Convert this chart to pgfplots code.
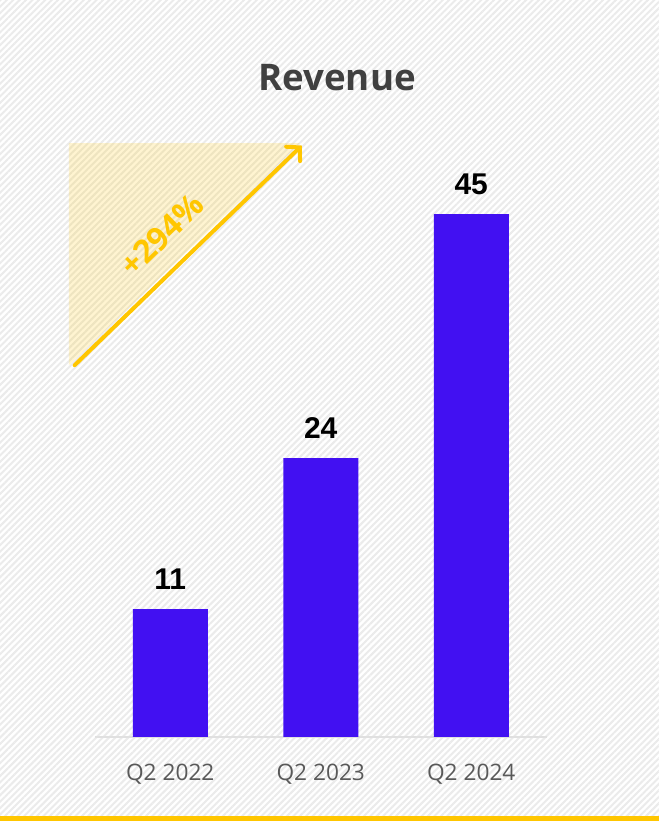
\documentclass[border=0pt]{standalone}
\usepackage{pgfplots}
\pgfplotsset{compat=1.18}
\usepackage{fontspec}
\setmainfont{Open Sans}
\newfontfamily\arialf{Liberation Sans}
\usetikzlibrary{patterns.meta,arrows.meta}
\newdimen\pxu \pxu=0.75pt
\definecolor{barblue}{HTML}{4210F2}
\definecolor{gold}{HTML}{FFC600}
\definecolor{titlegray}{HTML}{404040}
\definecolor{tickgray}{HTML}{595959}
\begin{document}
\begin{tikzpicture}
\useasboundingbox (0,0) rectangle (659\pxu,821\pxu);
\fill[white] (0,0) rectangle (659\pxu,821\pxu);
\fill[pattern={Lines[angle=45,distance=3.4pt,line width=1.5pt]},pattern color=black!8] (0,0) rectangle (659\pxu,821\pxu);
\fill[gold] (0,0) rectangle (659\pxu,5\pxu);
\node[font=\bfseries\fontsize{27.5}{30}\selectfont,text=titlegray] at (337\pxu,743\pxu) {Revenue};
\begin{axis}[
  at={(95\pxu,84\pxu)}, anchor=south west,
  scale only axis, width=451.5\pxu, height=581\pxu,
  xmin=-0.5, xmax=2.5, ymin=0, ymax=50,
  axis x line*=bottom, axis y line=none,
  x axis line style={black!12, line width=0.8pt, -},
  xtick={0,1,2}, xticklabels={Q2 2022,Q2 2023,Q2 2024},
  major tick length=0pt,
  xticklabel style={font=\fontsize{17}{20}\selectfont, text=tickgray, yshift=-16.5pt},
  ytick=\empty,
  clip=false,
  ybar, bar width=56.25pt,
  nodes near coords,
  /pgf/number format/assume math mode=true,
  every node near coord/.append style={font=\arialf\bfseries\fontsize{22.5}{24}\selectfont, text=black, yshift=11pt},
]
\fill[gold, opacity=0.18] (axis cs:-0.674,51.1) -- (axis cs:0.860,51.1) -- (axis cs:-0.674,32.0) -- cycle;
\addplot[fill=barblue, draw=none] coordinates {(0,11) (1,24) (2,45)};
\draw[gold, line width=3pt, line cap=round, -{Straight Barb[length=7pt,width=15pt,line cap=round]}] (axis cs:-0.635,32.0) -- (axis cs:0.874,50.9);
\node[font=\bfseries\fontsize{24}{26}\selectfont, text=gold, rotate=44] at (axis cs:-0.056,43.2) {+294\%};
\end{axis}
\end{tikzpicture}
\end{document}
